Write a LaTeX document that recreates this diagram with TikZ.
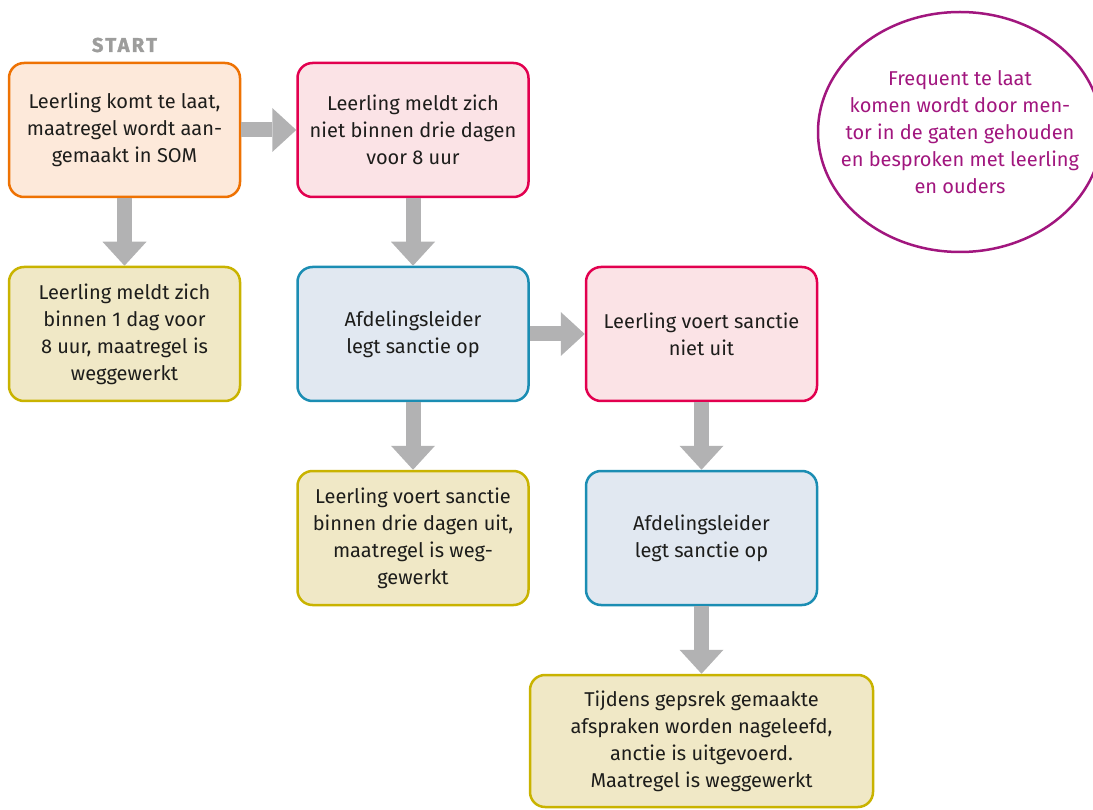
\documentclass[tikz,border=0pt]{standalone}
\usepackage{fontspec}
\setmainfont{Fira Sans}
\usetikzlibrary{arrows.meta}
\usetikzlibrary{shapes.geometric}

\definecolor{txtdark}{HTML}{1D1D1B}
\definecolor{arrowgray}{HTML}{B2B2B3}
\definecolor{startgray}{HTML}{9D9D9C}
\definecolor{orangeline}{HTML}{EE7203}
\definecolor{orangefill}{HTML}{FDE9DA}
\definecolor{pinkline}{HTML}{E2004F}
\definecolor{pinkfill}{HTML}{FBE3E6}
\definecolor{blueline}{HTML}{1B8DB3}
\definecolor{bluefill}{HTML}{E1E8F1}
\definecolor{yellowline}{HTML}{C9B300}
\definecolor{yellowfill}{HTML}{F0E8C6}
\definecolor{noteline}{HTML}{A1167E}

\begin{document}
\begin{tikzpicture}[x=1pt,y=-1pt,
  box/.style={rounded corners=15, line width=2.5pt, minimum width=231, minimum height=134,
    align=center, text=txtdark, font=\fontsize{20}{27}\selectfont, inner sep=0},
  startbox/.style={box, draw=orangeline, fill=orangefill},
  alertbox/.style={box, draw=pinkline, fill=pinkfill},
  actionbox/.style={box, draw=blueline, fill=bluefill},
  donebox/.style={box, draw=yellowline, fill=yellowfill},
  flow/.style={draw=arrowgray, line width=15pt, -{Triangle[length=24pt,width=44pt,line width=0pt]}}]
\useasboundingbox (0,0) rectangle (1093,810);

\node[text=startgray, font=\fontsize{20}{20}\selectfont\bfseries\addfontfeatures{LetterSpace=12,FakeBold=1.5}] (start) at (124.5,45) {START};

\node[startbox] (late) at (124.5,130) {Leerling komt te laat,\\maatregel wordt aan-\\gemaakt in SOM};
\node[alertbox] (nomeld) at (413,130) {Leerling meldt zich\\niet binnen drie dagen\\voor 8 uur};
\node[donebox] (meld) at (124.5,334) {Leerling meldt zich\\binnen 1 dag voor\\8 uur, maatregel is\\weggewerkt};
\node[actionbox] (sanctie) at (413,334) {Afdelingsleider\\legt sanctie op};
\node[alertbox] (nietuit) at (701.5,334) {Leerling voert sanctie\\niet uit};
\node[donebox] (uit) at (413,538) {Leerling voert sanctie\\binnen drie dagen uit,\\maatregel is weg-\\gewerkt};
\node[actionbox] (sanctietwee) at (701.5,538) {Afdelingsleider\\legt sanctie op};
\node[donebox, minimum width=343, minimum height=132] (gesprek) at (701.5,741) {Tijdens gepsrek gemaakte\\afspraken worden nageleefd,\\anctie is uitgevoerd.\\Maatregel is weggewerkt};

% note on the right
\node[ellipse, draw=noteline, line width=2.5pt, minimum width=284, minimum height=240, inner sep=0] (note) at (960,132) {};
\node[align=center, text=noteline, font=\fontsize{20}{27}\selectfont, inner sep=0] (notetext) at (note.center)
  {Frequent te laat\\komen wordt door men-\\tor in de gaten gehouden\\en besproken met leerling\\en ouders};

\draw[flow] (late.east) -- (nomeld.west);
\draw[flow] (late.south) -- (meld.north);
\draw[flow] (nomeld.south) -- (sanctie.north);
\draw[flow] (sanctie.east) -- (nietuit.west);
\draw[flow] (sanctie.south) -- (uit.north);
\draw[flow] (nietuit.south) -- (sanctietwee.north);
\draw[flow] (sanctietwee.south) -- (gesprek.north);
\end{tikzpicture}
\end{document}
